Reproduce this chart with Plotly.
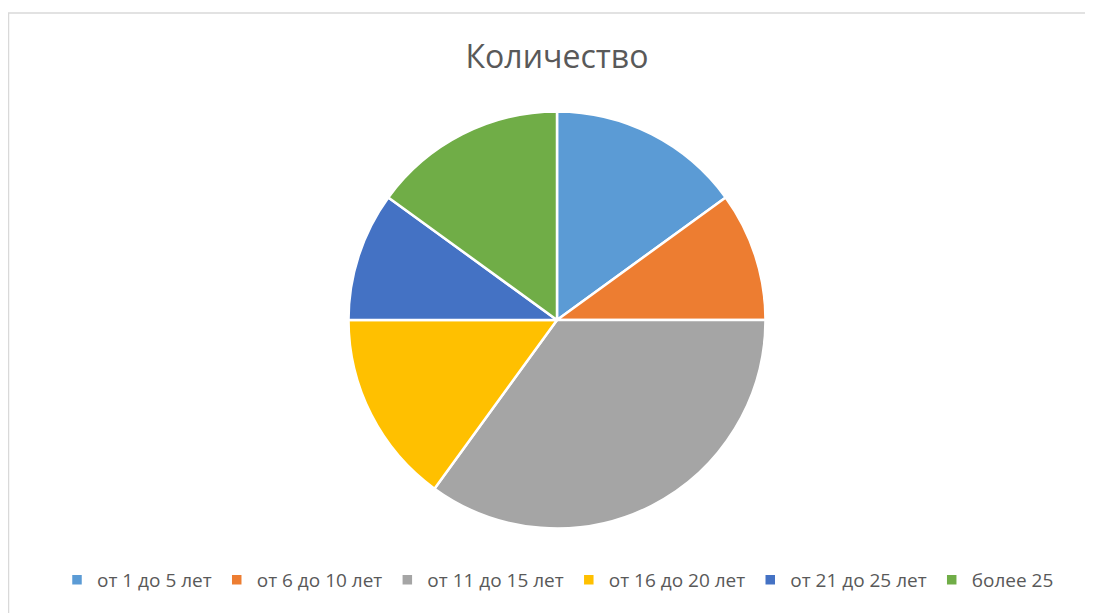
import plotly.graph_objects as go

labels = ["от 1 до 5 лет", "от 6 до 10 лет", "от 11 до 15 лет", "от 16 до 20 лет", "от 21 до 25 лет", "более 25"]
values = [3, 2, 7, 3, 2, 3]
colors = ["#5B9BD5", "#ED7D31", "#A5A5A5", "#FFC000", "#4472C4", "#70AD47"]

# page body adds an 8px offset; figure coordinates below are page coords minus 8
W, H = 1085, 605
OFF = 8
cx, cy, r = 557 - OFF, 320 - OFF, 208.5

fig = go.Figure(go.Pie(
    labels=labels, values=values, sort=False, direction="clockwise", rotation=0,
    marker=dict(colors=colors, line=dict(color="white", width=2.5)),
    textinfo="none", hoverinfo="label+value+percent",
    domain=dict(x=[(cx - r) / W, (cx + r) / W], y=[1 - (cy + r) / H, 1 - (cy - r) / H]),
))

fig.update_layout(
    width=W, height=H,
    margin=dict(l=0, r=0, t=0, b=0),
    paper_bgcolor="white",
    title=dict(text="Количество", x=(557 - OFF) / W, xanchor="center", y=1 - (57 - OFF) / H, yanchor="middle",
               font=dict(family="Open Sans", size=32, color="#595959")),
    legend=dict(orientation="h", x=(558 - OFF) / W, xanchor="center", y=1 - (580 - OFF) / H, yanchor="middle",
                font=dict(family="Open Sans", size=19, color="#595959"), itemwidth=30),
    shapes=[dict(type="rect", xref="paper", yref="paper", x0=0.5 / W, x1=1.02, y0=-0.02, y1=1 - 5 / H,
                 line=dict(color="#D9D9D9", width=1.5), layer="below")],
)

fig.write_html("out.html")
